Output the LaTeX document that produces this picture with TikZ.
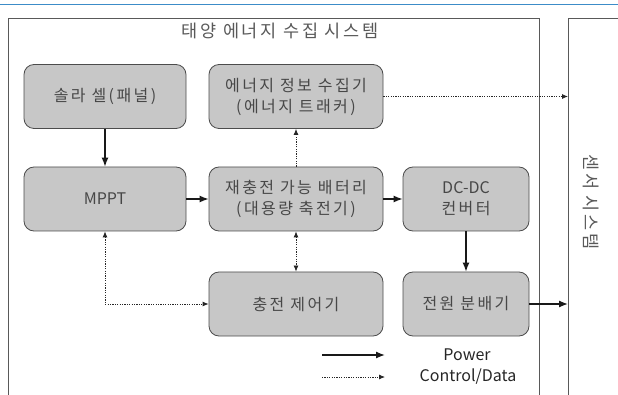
\documentclass[tikz,border=0pt]{standalone}
\usepackage{fontspec}
\setmainfont{Noto Sans CJK KR}
\newfontfamily\krfont[LetterSpace=15]{Noto Sans CJK KR}
\usetikzlibrary{arrows.meta}

\begin{document}
\begin{tikzpicture}[x=1pt,y=-1pt]
% Styles for blocks and connectors
\tikzset{
block/.style={draw=black!70,fill=black!22,rounded corners=10pt,line width=0.8pt,text=black!72,font=\fontsize{16}{21}\krfont,align=center,inner sep=0pt,minimum height=64pt},
latin/.style={font=\fontsize{16}{21}\normalfont},
frame/.style={draw=black!65,line width=0.8pt,anchor=north west,minimum height=420pt},
title/.style={text=black!65,font=\fontsize{17.5}{21}\krfont},
power/.style={->,>={Latex[length=9pt,width=7pt]},line width=1.3pt,draw=black!90},
ctrl/.style={>={Latex[length=6pt,width=5pt]},line width=0.8pt,dash pattern=on 1.2pt off 1.2pt,draw=black!85}
}
\useasboundingbox (0,0) rectangle (618,395);
\clip (0,0) rectangle (618,395);
\draw[color={rgb,255:red,60;green,140;blue,200},line width=1pt] (0,5) -- (618,5);

% System frames
\node[frame,minimum width=531pt] (sys) at (8,18) {};
\node[title] (systitle) at (280,31) {태양 에너지 수집 시스템};
\node[frame,minimum width=80pt] (sensor) at (568,18) {};
\node[title,rotate=-90] (sensortitle) at (591,202) {센서 시스템};

% Blocks
\node[block,minimum width=162pt] (solar) at (105,96.5) {솔라 셀(패널)};
\node[block,minimum width=174pt] (tracker) at (296,96.5) {에너지 정보 수집기\\(에너지 트래커)};
\node[block,latin,minimum width=162pt] (mppt) at (105,199) {MPPT};
\node[block,minimum width=174pt] (battery) at (296,199) {재충전 가능 배터리\\(대용량 축전기)};
\node[block,minimum width=126pt] (dcdc) at (466,199) {{\normalfont\fontsize{16}{21}\selectfont DC-DC}\\컨버터};
\node[block,minimum width=174pt] (charger) at (296,304) {충전 제어기};
\node[block,minimum width=126pt] (distrib) at (466,304) {전원 분배기};

% Power flow
\draw[power] (solar) -- (mppt);
\draw[power] (mppt) -- (battery);
\draw[power] (battery) -- (dcdc);
\draw[power] (dcdc) -- (distrib);
\draw[power] (distrib) -- (distrib -| sensor.west);

% Control / data
\draw[ctrl,->] (battery) -- (tracker);
\draw[ctrl,->] (tracker) -- (tracker -| sensor.west);
\draw[ctrl,<->] (battery) -- (charger);
\draw[ctrl,<->] (mppt.south) |- (charger.west);

% Legend
\coordinate (pwA) at (322,355);
\coordinate (pwB) at (385,355);
\coordinate (ctA) at (322,377);
\coordinate (ctB) at (385,377);
\draw[power] (pwA) -- (pwB);
\draw[ctrl,->] (ctA) -- (ctB);
\node[latin,text=black!85] (pwtext) at (467,355) {Power};
\node[latin,text=black!85] (cttext) at (468,377) {Control/Data};
\end{tikzpicture}
\end{document}
